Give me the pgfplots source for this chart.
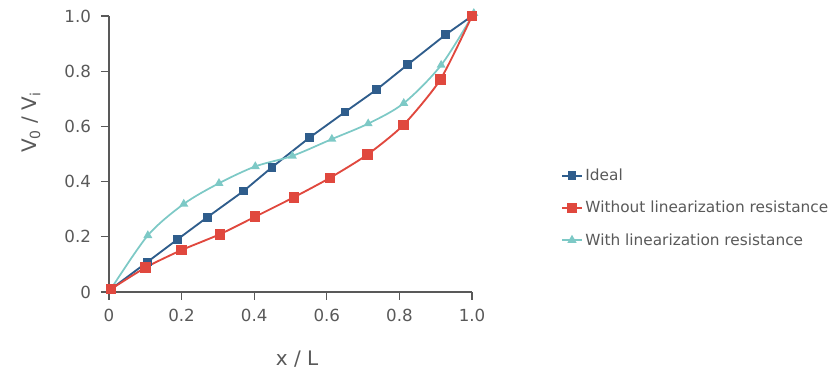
\documentclass[border=0pt]{standalone}
\usepackage{pgfplots}
\pgfplotsset{compat=1.18}
\usepackage{fontspec}
\setmainfont{DejaVu Sans}
\definecolor{ideal}{HTML}{2F5D8C}
\definecolor{without}{HTML}{E0483E}
\definecolor{withc}{HTML}{7DC9C6}
\definecolor{txt}{HTML}{595959}
\begin{document}
\begin{tikzpicture}[x=0.75pt,y=0.75pt]
\path[use as bounding box] (-109,-85) rectangle (728,292);
\begin{axis}[
  at={(0pt,0pt)}, anchor=south west,
  scale only axis, width=272.25pt, height=207pt,
  xmin=0, xmax=1, ymin=0, ymax=1,
  clip=false,
  axis lines=left,
  axis line style={draw=txt, line width=0.9pt, -},
  tick style={draw=txt, line width=0.9pt},
  tick align=outside,
  major tick length=6pt,
  xtick={0,0.2,0.4,0.6,0.8,1.0},
  ytick={0,0.2,0.4,0.6,0.8,1.0},
  xticklabels={0,0.2,0.4,0.6,0.8,1.0},
  yticklabels={0,0.2,0.4,0.6,0.8,1.0},
  /pgf/number format/assume math mode=true,
  ticklabel style={font=\fontsize{12.5}{14}\selectfont, text=txt},
  xticklabel style={yshift=-3pt},
  yticklabel style={xshift=-4pt},
  xlabel={x / L},
  ylabel={V\textsubscript{0} / V\textsubscript{i}},
  label style={font=\fontsize{15}{18}\selectfont, text=txt},
  xlabel style={at={(axis description cs:0.518,-0.245)}, anchor=center},
  ylabel style={at={(axis description cs:-0.215,0.615)}, anchor=center},
  legend style={draw=none, fill=none, at={(axis description cs:1.245,0.457)}, anchor=north west,
    font=\fontsize{11.5}{13}\selectfont, text=txt, row sep=10pt, inner sep=0pt},
  legend cell align=left,
  legend image code/.code={\draw[mark repeat=2,mark phase=2] plot coordinates {(0cm,0cm) (0.26cm,0cm) (0.52cm,0cm)};},
]
\addplot[ideal, line width=1.4pt, mark=square*, mark size=2.6pt, mark options={solid}]
coordinates {(0.005,0.01)(0.106,0.109)(0.188,0.19)(0.271,0.271)(0.371,0.366)(0.449,0.452)(0.553,0.56)(0.65,0.652)(0.737,0.733)(0.823,0.824)(0.927,0.932)(1.0,1.0)};
\addlegendentry{Ideal}
\addplot[withc, line width=1.3pt, smooth, mark=triangle*, mark size=2.6pt, forget plot]
coordinates {(0.005,0.01)(0.107,0.205)(0.206,0.319)(0.303,0.394)(0.403,0.455)(0.505,0.493)(0.614,0.554)(0.714,0.61)(0.812,0.684)(0.915,0.822)(1.005,1.01)};
\addplot[without, line width=1.4pt, smooth, tension=0.4, mark=square*, mark size=3.2pt]
coordinates {(0.005,0.01)(0.101,0.089)(0.2,0.152)(0.305,0.209)(0.403,0.273)(0.509,0.343)(0.608,0.413)(0.712,0.498)(0.811,0.605)(0.913,0.77)(1.0,1.0)};
\addlegendentry{Without linearization resistance}
\addlegendimage{withc, line width=1.3pt, mark=triangle*, mark size=2.8pt}
\addlegendentry{With linearization resistance}
\end{axis}
\end{tikzpicture}
\end{document}
